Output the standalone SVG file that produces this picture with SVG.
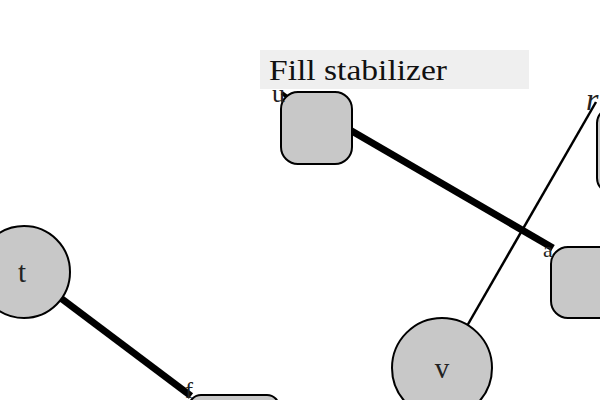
<svg xmlns="http://www.w3.org/2000/svg" width="600" height="400" viewBox="0 0 600 400">
<style>
.node{fill:#c8c8c8;stroke:#000;stroke-width:2}
.lbl{font-family:"Liberation Serif","DejaVu Serif",serif;font-size:22px;fill:#222}
.big{font-size:29px}
.thick{stroke:#000;stroke-width:7;fill:none}
.thin{stroke:#000;stroke-width:2.5;fill:none}
</style>
<rect width="600" height="400" fill="#fff"/>
<g id="connectors">
<line class="thick" x1="350" y1="130" x2="553" y2="248"/>
<line class="thin" x1="596" y1="102" x2="467" y2="326"/>
<line class="thick" x1="58" y1="296" x2="191" y2="396"/>
<line x1="282" y1="93" x2="290" y2="99" stroke="#000" stroke-width="4"/>
</g>
<g id="title">
<rect x="260" y="50" width="269" height="39" fill="#efefef"/>
<text x="269" y="80" font-family="Liberation Serif,DejaVu Serif,serif" font-size="29" fill="#111" textLength="178" lengthAdjust="spacingAndGlyphs">Fill stabilizer</text>
</g>
<g id="node-u">
<rect class="node" x="281" y="92" width="71" height="72" rx="17"/>
<text class="lbl" x="272" y="102" style="font-size:26px">u</text>
</g>
<g id="node-r">
<rect class="node" x="597" y="108" width="40" height="85" rx="15"/>
<text class="lbl" x="586" y="110" style="font-size:32px;font-style:italic">r</text>
</g>
<g id="node-a">
<rect class="node" x="551" y="247" width="80" height="71" rx="17"/>
<text class="lbl" x="543" y="257" style="font-size:22px">a</text>
</g>
<g id="node-f">
<rect class="node" x="189" y="395" width="90" height="40" rx="12"/>
<text class="lbl" x="185" y="398" style="font-size:24px">f</text>
</g>
<g id="node-t">
<circle class="node" cx="24" cy="272" r="46"/>
<text class="lbl big" x="22" y="282" text-anchor="middle">t</text>
</g>
<g id="node-v">
<circle class="node" cx="442" cy="368" r="50"/>
<text class="lbl big" x="442" y="378" text-anchor="middle">v</text>
</g>
</svg>
